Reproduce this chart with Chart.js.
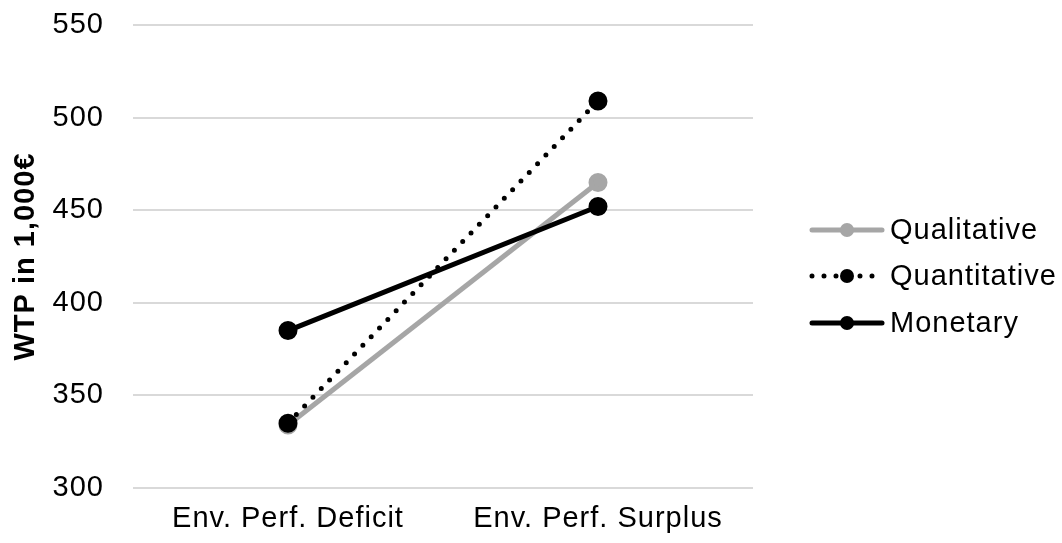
<!DOCTYPE html>
<html>
<head>
<meta charset="utf-8">
<script src="https://cdn.jsdelivr.net/npm/chart.js@4"></script>
<style>
  html, body { margin: 0; padding: 0; background: #fff; }
  #wrap { width: 1062px; height: 543px; }
</style>
</head>
<body>
<div id="wrap"><canvas id="myChart"></canvas></div>
<script>
const categories = ['Env. Perf. Deficit', 'Env. Perf. Surplus'];
const qualitative = [334, 465];
const quantitative = [335, 509];
const monetary = [385, 452];
const yTicks = [300, 350, 400, 450, 500, 550];

const FONT = 'Liberation Sans, Arial, sans-serif';
const SIZE = 29;

// the original text is set a little looser than canvas draws it
const looseText = {
    id: 'looseText',
    beforeDraw(chart) {
        chart.ctx.letterSpacing = '1px';
    }
};

// legend drawn by hand so the marker sits in the middle of the line sample
const sideLegend = {
    id: 'sideLegend',
    afterDraw(chart) {
        const ctx = chart.ctx;
        const x0 = 812, x1 = 882;
        const rows = [230, 276, 323];
        ctx.save();
        chart.data.datasets.forEach((ds, i) => {
            const y = rows[i];
            ctx.strokeStyle = ds.borderColor;
            ctx.lineWidth = 5;
            ctx.lineCap = 'round';
            ctx.setLineDash(ds.borderDash || []);
            ctx.beginPath();
            ctx.moveTo(x0, y);
            ctx.lineTo(x1, y);
            ctx.stroke();
            ctx.setLineDash([]);
            ctx.fillStyle = ds.pointBackgroundColor;
            ctx.beginPath();
            ctx.arc((x0 + x1) / 2, y, 7, 0, Math.PI * 2);
            ctx.fill();
            ctx.fillStyle = '#000';
            ctx.font = SIZE + 'px ' + FONT;
            ctx.textBaseline = 'middle';
            ctx.fillText(ds.label, 890, y + 1);
        });
        ctx.restore();
    }
};

new Chart(document.getElementById('myChart'), {
    type: 'line',
    data: {
        labels: categories,
        datasets: [
            {
                label: 'Qualitative',
                data: qualitative,
                borderColor: '#a6a6a6',
                pointBackgroundColor: '#a6a6a6',
                pointBorderColor: '#a6a6a6',
                borderWidth: 5,
                pointRadius: 7,
                order: 3
            },
            {
                label: 'Quantitative',
                data: quantitative,
                borderColor: '#000',
                pointBackgroundColor: '#000',
                pointBorderColor: '#000',
                borderWidth: 5,
                borderDash: [0, 12],
                borderCapStyle: 'round',
                pointRadius: 7,
                order: 2
            },
            {
                label: 'Monetary',
                data: monetary,
                borderColor: '#000',
                pointBackgroundColor: '#000',
                pointBorderColor: '#000',
                borderWidth: 5,
                pointRadius: 7,
                order: 1
            }
        ]
    },
    options: {
        responsive: true,
        maintainAspectRatio: false,
        animation: false,
        layout: { padding: { top: 25, right: 309, left: 0, bottom: 0 } },
        plugins: {
            legend: { display: false },
            tooltip: { enabled: false }
        },
        scales: {
            x: {
                offset: true,
                grid: { display: false },
                border: { display: false },
                ticks: { color: '#000', font: { family: FONT, size: SIZE }, padding: 6 },
                afterFit(axis) {
                    axis.height = 55;
                    axis.paddingLeft = 0;
                    axis.paddingRight = 0;
                }
            },
            y: {
                min: 300,
                max: 550,
                afterBuildTicks(axis) { axis.ticks = yTicks.map(v => ({ value: v })); },
                grid: { color: '#d9d9d9', lineWidth: 2, drawTicks: false },
                border: { display: false },
                ticks: { color: '#000', font: { family: FONT, size: SIZE }, padding: 29 },
                title: {
                    display: true,
                    text: 'WTP in 1,000€',
                    color: '#000',
                    padding: { top: 9, bottom: 0 },
                    font: { family: FONT, size: 29, weight: 'bold' }
                },
                afterFit(axis) {
                    axis.width = 133;
                    axis.paddingTop = 0;
                    axis.paddingBottom = 0;
                }
            }
        }
    },
    plugins: [looseText, sideLegend]
});
</script>
</body>
</html>
